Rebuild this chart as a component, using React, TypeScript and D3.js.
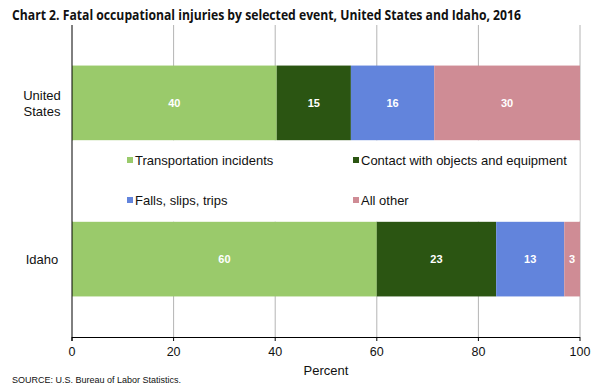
import React from "react";
import * as d3 from "d3";

const areas = ["United States", "Idaho"];
const events = [
  "Transportation incidents",
  "Contact with objects and equipment",
  "Falls, slips, trips",
  "All other",
];
const colors = ["#9aca6b", "#2b5512", "#6284dc", "#cf8c95"];
// share of fatalities (percent)
const usShares = [40.3, 14.6, 16.4, 28.7];
const idahoShares = [60.0, 23.5, 13.4, 3.1];
// numbers printed on the segments
const usLabels = [40, 15, 16, 30];
const idahoLabels = [60, 23, 13, 3];
const xTicks = [0, 20, 40, 60, 80, 100];

const W = 600;
const H = 389;
const margin = { top: 25, right: 20, bottom: 52, left: 72 };

const App = () => {
  const x = d3.scaleLinear().domain([0, 100]).range([margin.left, W - margin.right]);
  const y = d3
    .scaleBand()
    .domain(areas)
    .range([margin.top, H - margin.bottom])
    .paddingInner(0.52)
    .paddingOuter(0.26);

  const rows = [usShares, idahoShares].map((vals, i) => {
    const labels = i === 0 ? usLabels : idahoLabels;
    const ends = d3.cumsum(vals);
    return {
      area: areas[i],
      segs: vals.map((v, j) => ({ label: labels[j], x0: ends[j] - v, x1: Math.min(100, ends[j]), c: colors[j] })),
    };
  });

  const font = "Arial, 'Liberation Sans', sans-serif";
  const bottom = H - margin.bottom;

  return (
    <svg width={W} height={H} style={{ position: "absolute", left: 0, top: 0, background: "#fff" }}>
      <text x={12} y={20} fontFamily="'Open Sans', sans-serif" fontWeight="bold" fontSize={13.5} fill="#111"
        textLength={509} lengthAdjust="spacingAndGlyphs">
        Chart 2.  Fatal occupational injuries by selected event, United States and Idaho, 2016
      </text>

      {xTicks.slice(1).map((t) => (
        <line key={t} x1={x(t)} x2={x(t)} y1={margin.top} y2={bottom} stroke="#b4b4b4" strokeWidth={1} />
      ))}

      {rows.map((r) => (
        <g key={r.area}>
          {r.segs.map((s, j) => (
            <g key={j}>
              <rect x={x(s.x0)} y={y(r.area)} width={x(s.x1) - x(s.x0)} height={y.bandwidth()} fill={s.c} />
              <text x={(x(s.x0) + x(s.x1)) / 2} y={y(r.area)! + y.bandwidth() / 2 + 4} textAnchor="middle"
                fontFamily={font} fontWeight="bold" fontSize={11} fill="#fff">
                {s.label}
              </text>
            </g>
          ))}
        </g>
      ))}

      {/* legend box between the bars */}
      <rect x={margin.left + 1} y={y("United States")! + y.bandwidth()} width={x(100) - margin.left - 1.5}
        height={y("Idaho")! - y("United States")! - y.bandwidth()} fill="#fff" />
      {events.map((e, i) => {
        const lx = i % 2 === 0 ? 127 : 353;
        const ly = i < 2 ? 161 : 201;
        return (
          <g key={e}>
            <rect x={lx} y={ly - 4} width={6} height={6} fill={colors[i]} />
            <text x={lx + 8} y={ly + 4} fontFamily={font} fontSize={13} fill="#111">{e}</text>
          </g>
        );
      })}

      {/* axes */}
      <line x1={margin.left} x2={margin.left} y1={margin.top} y2={bottom + 4} stroke="#000" />
      <line x1={margin.left} x2={x(100)} y1={bottom + 0.5} y2={bottom + 0.5} stroke="#000" />
      {xTicks.map((t) => (
        <g key={t}>
          <line x1={x(t)} x2={x(t)} y1={bottom} y2={bottom + 4} stroke="#000" />
          <text x={x(t)} y={bottom + 19} textAnchor="middle" fontFamily={font} fontSize={12.5} fill="#111">{t}</text>
        </g>
      ))}
      <text x={(x(0) + x(100)) / 2} y={bottom + 38} textAnchor="middle" fontFamily={font} fontSize={13} fill="#111">
        Percent
      </text>

      <text x={42} y={y("United States")! + y.bandwidth() / 2 - 3} textAnchor="middle" fontFamily={font} fontSize={13} fill="#111">
        <tspan x={42} dy={0}>United</tspan>
        <tspan x={42} dy={16}>States</tspan>
      </text>
      <text x={42} y={y("Idaho")! + y.bandwidth() / 2 + 5} textAnchor="middle" fontFamily={font} fontSize={13} fill="#111">
        Idaho
      </text>

      <text x={12} y={383} fontFamily={font} fontSize={9} fill="#111">SOURCE: U.S. Bureau  of Labor Statistics.</text>
    </svg>
  );
};

export default App;
